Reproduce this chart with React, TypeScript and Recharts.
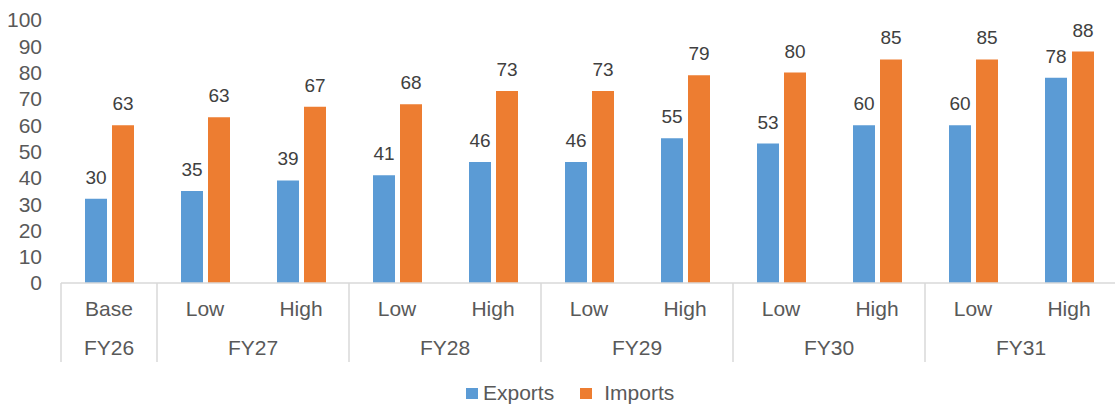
import React from 'react';
import { BarChart, Bar, XAxis, YAxis, Legend, LabelList } from 'recharts';

const categories = ['Base', 'Low', 'High', 'Low', 'High', 'Low', 'High', 'Low', 'High', 'Low', 'High'];
const years = ['FY26', 'FY27', 'FY27', 'FY28', 'FY28', 'FY29', 'FY29', 'FY30', 'FY30', 'FY31', 'FY31'];
// bar heights as drawn
const exportsValues = [32, 35, 39, 41, 46, 46, 55, 53, 60, 60, 78];
const importsValues = [60, 63, 67, 68, 73, 73, 79, 80, 85, 85, 88];
// data labels as printed
const exportsLabels = [30, 35, 39, 41, 46, 46, 55, 53, 60, 60, 78];
const importsLabels = [63, 63, 67, 68, 73, 73, 79, 80, 85, 85, 88];
const yTicks = [0, 10, 20, 30, 40, 50, 60, 70, 80, 90, 100];

const FONT = '"Liberation Sans", Arial, sans-serif';
const BLUE = '#5B9BD5';
const ORANGE = '#ED7D31';
const GRID = '#d9d9d9';

const data = categories.map((cat, i) => ({
  idx: i,
  cat,
  year: years[i],
  exports: exportsValues[i],
  imports: importsValues[i],
  expLabel: exportsLabels[i],
  impLabel: importsLabels[i],
}));

const last = categories.length - 1;

// first row: scenario label + group separators
const CategoryTick = (props: any) => {
  const { x, y, width, payload } = props;
  const i = payload.value as number;
  const band = (width || 1056) / categories.length;
  const startsGroup = i === 0 || years[i] !== years[i - 1];
  return (
    <g>
      <text x={x} y={y + 33} textAnchor="middle" fill="#595959" fontSize={21} fontFamily={FONT}>
        {categories[i]}
      </text>
      {startsGroup && (
        <line x1={x - band / 2} x2={x - band / 2} y1={y} y2={y + 79} stroke={GRID} strokeWidth={1.5} />
      )}
      {i === last && (
        <line x1={x + band / 2} x2={x + band / 2} y1={y} y2={y + 79} stroke={GRID} strokeWidth={1.5} />
      )}
    </g>
  );
};

// second row: fiscal year, centred under its group
const YearTick = (props: any) => {
  const { x, y, width, payload } = props;
  const i = payload.value as number;
  if (i > 0 && years[i] === years[i - 1]) return <g />;
  const n = years.filter((yr) => yr === years[i]).length;
  const band = (width || 1056) / categories.length;
  return (
    <text x={x + ((n - 1) * band) / 2} y={y + 34} textAnchor="middle" fill="#595959" fontSize={21} fontFamily={FONT}>
      {years[i]}
    </text>
  );
};

const renderLegend = () => (
  <div
    style={{
      display: 'flex',
      alignItems: 'center',
      height: 22,
      lineHeight: '22px',
      fontSize: 21,
      color: '#595959',
      fontFamily: FONT,
      whiteSpace: 'nowrap',
    }}
  >
    <span style={{ display: 'inline-block', width: 12, height: 11, background: BLUE, marginRight: 5 }} />
    <span>Exports</span>
    <span style={{ display: 'inline-block', width: 12, height: 11, background: ORANGE, marginLeft: 26, marginRight: 12 }} />
    <span>Imports</span>
  </div>
);

export default function App() {
  return (
    <div style={{ position: 'absolute', left: 0, top: 0, width: 1115, height: 405, overflow: 'hidden', background: '#fff' }}>
      <BarChart
        width={1117}
        height={405}
        data={data}
        margin={{ top: 20, right: 0, left: 0, bottom: 21 }}
        barSize={22}
        barGap={5}
      >
        <XAxis
          dataKey="idx"
          xAxisId={0}
          height={38}
          interval={0}
          tickSize={0}
          tickMargin={0}
          tickLine={false}
          axisLine={{ stroke: GRID, strokeWidth: 1.5 }}
          tick={<CategoryTick />}
        />
        <XAxis
          dataKey="idx"
          xAxisId="year"
          height={41}
          interval={0}
          tickSize={0}
          tickMargin={0}
          tickLine={false}
          axisLine={false}
          tick={<YearTick />}
        />
        <YAxis
          width={61}
          domain={[0, 100]}
          ticks={yTicks}
          interval={0}
          axisLine={false}
          tickLine={false}
          tickSize={0}
          tickMargin={19}
          tick={{ fill: '#595959', fontSize: 21, fontFamily: FONT }}
        />
        <Legend
          verticalAlign="bottom"
          content={renderLegend}
          wrapperStyle={{ left: 466, top: 382, width: 'auto' }}
        />
        <Bar dataKey="exports" name="Exports" fill={BLUE} isAnimationActive={false}>
          <LabelList dataKey="expLabel" position="top" offset={15} fill="#404040" fontSize={19} fontFamily={FONT} />
        </Bar>
        <Bar dataKey="imports" name="Imports" fill={ORANGE} isAnimationActive={false}>
          <LabelList dataKey="impLabel" position="top" offset={15} fill="#404040" fontSize={19} fontFamily={FONT} />
        </Bar>
      </BarChart>
    </div>
  );
}
